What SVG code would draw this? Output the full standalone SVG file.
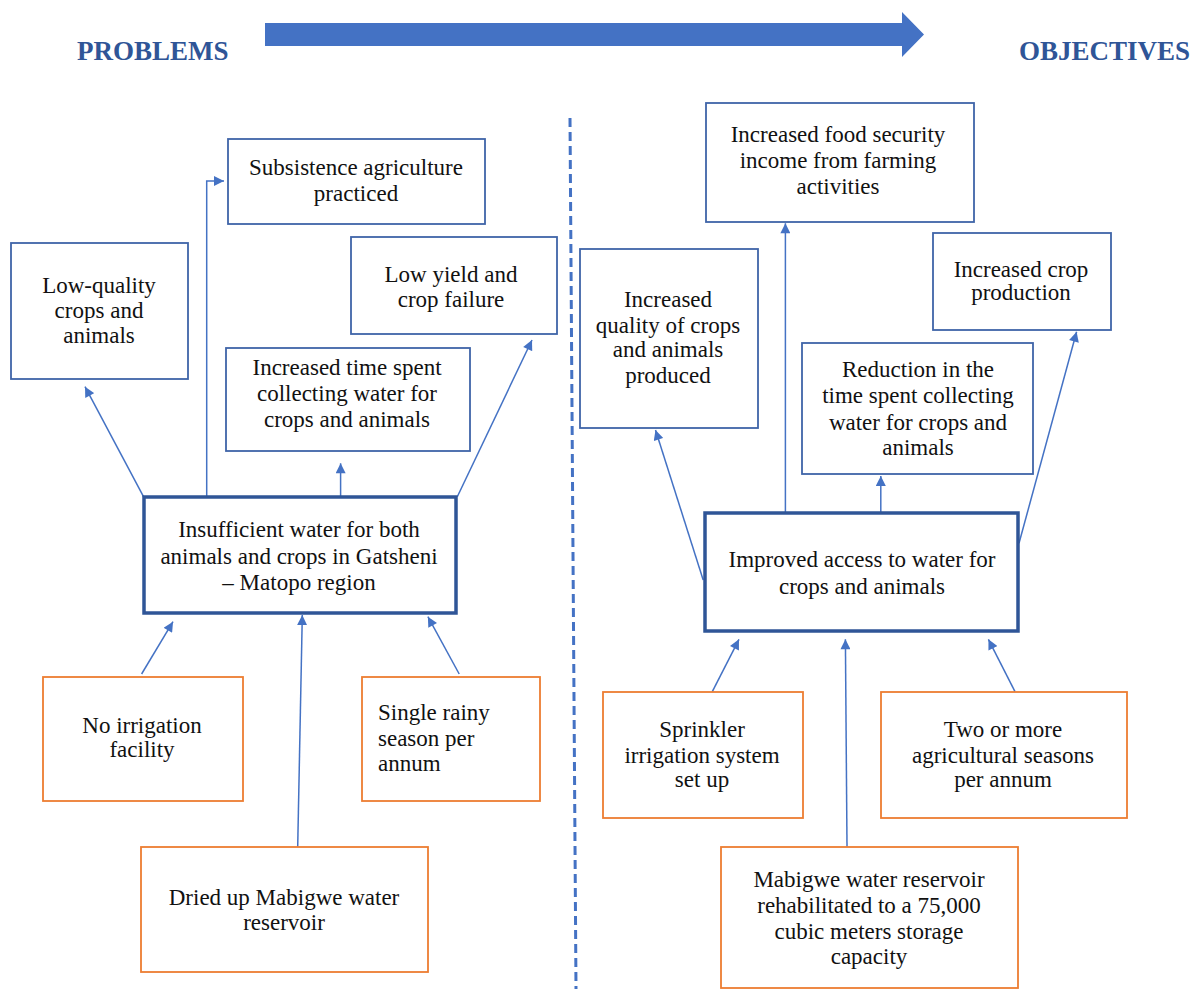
<svg xmlns="http://www.w3.org/2000/svg" width="1203" height="989" viewBox="0 0 1203 989">
<defs>
<style>
.hdr{font-family:"Liberation Serif","Times New Roman",serif;font-weight:bold;font-size:27px;fill:#2F5597}
.t{font-family:"Liberation Serif","Times New Roman",serif;font-size:23px;fill:#111;text-anchor:middle}
.tl{text-anchor:start}
.bb{fill:#fff;stroke:#3F64A8;stroke-width:1.8}
.mb{fill:#fff;stroke:#2F5597;stroke-width:3.5}
.ob{fill:#fff;stroke:#ED7D31;stroke-width:1.8}
.c{fill:none;stroke:#4472C4;stroke-width:1.5;marker-end:url(#ah)}
</style>
<marker id="ah" viewBox="0 0 10 10" refX="10" refY="5" markerWidth="11" markerHeight="10" markerUnits="userSpaceOnUse" orient="auto"><path d="M0,0 L10,5 L0,10 z" fill="#4472C4"/></marker>
</defs>
<rect width="1203" height="989" fill="#fff"/>
<g id="header">
<text class="hdr" x="77" y="60">PROBLEMS</text>
<text class="hdr" x="1019" y="60">OBJECTIVES</text>
<polygon points="265,23 902,23 902,12 924,34.5 902,57 902,46 265,46" fill="#4472C4"/>
</g>
<g id="divider"><line x1="570" y1="118" x2="576" y2="989" stroke="#4472C4" stroke-width="3" stroke-dasharray="9,5"/></g>
<g id="connectors">
<line class="c" x1="143.5" y1="496.7" x2="85" y2="386.7"/>
<path class="c" d="M206.7,496.7 V181 H224"/>
<line class="c" x1="340.6" y1="496.7" x2="340.6" y2="463.3"/>
<line class="c" x1="457.3" y1="496.7" x2="532" y2="340"/>
<line class="c" x1="141.6" y1="674" x2="173" y2="621.7"/>
<line class="c" x1="297.7" y1="846.7" x2="302.3" y2="615"/>
<line class="c" x1="459.2" y1="674" x2="427.9" y2="616.7"/>
<line class="c" x1="703.2" y1="580" x2="655.5" y2="430"/>
<line class="c" x1="785.4" y1="512.7" x2="785.4" y2="223.3"/>
<line class="c" x1="880.8" y1="512.7" x2="880.8" y2="476"/>
<line class="c" x1="1019" y1="543.3" x2="1076.6" y2="331.7"/>
<line class="c" x1="712.3" y1="691.7" x2="739" y2="639.3"/>
<line class="c" x1="847" y1="846.7" x2="845.4" y2="639.3"/>
<line class="c" x1="1015" y1="691.7" x2="988.4" y2="639.3"/>
</g>
<g id="subsistence"><rect class="bb" x="228" y="139" width="257" height="85"/>
<text class="t" x="356" y="175">Subsistence agriculture</text><text class="t" x="356" y="201">practiced</text></g>
<g id="low-quality"><rect class="bb" x="11" y="243" width="177" height="136"/>
<text class="t" x="99" y="293">Low-quality</text><text class="t" x="99" y="318">crops and</text><text class="t" x="99" y="343">animals</text></g>
<g id="low-yield"><rect class="bb" x="351" y="237" width="206" height="97"/>
<text class="t" x="451" y="282">Low yield and</text><text class="t" x="451" y="307">crop failure</text></g>
<g id="time-spent"><rect class="bb" x="226" y="348" width="244" height="103"/>
<text class="t" x="347" y="375">Increased time spent</text><text class="t" x="347" y="401">collecting water for</text><text class="t" x="347" y="427">crops and animals</text></g>
<g id="insufficient"><rect class="mb" x="144" y="497" width="312" height="116"/>
<text class="t" x="299" y="537">Insufficient water for both</text><text class="t" x="299" y="564">animals and crops in Gatsheni</text><text class="t" x="299" y="590">– Matopo region</text></g>
<g id="no-irrigation"><rect class="ob" x="43" y="677" width="200" height="124"/>
<text class="t" x="142" y="733">No irrigation</text><text class="t" x="142" y="757">facility</text></g>
<g id="single-rainy"><rect class="ob" x="362" y="677" width="178" height="124"/>
<text class="t tl" x="378" y="720">Single rainy</text><text class="t tl" x="378" y="746">season per</text><text class="t tl" x="378" y="771">annum</text></g>
<g id="dried-up"><rect class="ob" x="141" y="847" width="287" height="125"/>
<text class="t" x="284" y="905">Dried up Mabigwe water</text><text class="t" x="284" y="930">reservoir</text></g>
<g id="food-security"><rect class="bb" x="706" y="103" width="268" height="119"/>
<text class="t" x="838" y="142">Increased food security</text><text class="t" x="838" y="168">income from farming</text><text class="t" x="838" y="194">activities</text></g>
<g id="quality"><rect class="bb" x="580" y="249" width="178" height="179"/>
<text class="t" x="668" y="307">Increased</text><text class="t" x="668" y="333">quality of crops</text><text class="t" x="668" y="357">and animals</text><text class="t" x="668" y="383">produced</text></g>
<g id="crop-production"><rect class="bb" x="933" y="233" width="178" height="97"/>
<text class="t" x="1021" y="277">Increased crop</text><text class="t" x="1021" y="300">production</text></g>
<g id="reduction"><rect class="bb" x="802" y="343" width="231" height="131"/>
<text class="t" x="918" y="377">Reduction in the</text><text class="t" x="918" y="403">time spent collecting</text><text class="t" x="918" y="430">water for crops and</text><text class="t" x="918" y="455">animals</text></g>
<g id="improved"><rect class="mb" x="705" y="513" width="313" height="118"/>
<text class="t" x="862" y="567">Improved access to water for</text><text class="t" x="862" y="594">crops and animals</text></g>
<g id="sprinkler"><rect class="ob" x="603" y="692" width="200" height="126"/>
<text class="t" x="702" y="737">Sprinkler</text><text class="t" x="702" y="763">irrigation system</text><text class="t" x="702" y="787">set up</text></g>
<g id="two-seasons"><rect class="ob" x="881" y="692" width="246" height="126"/>
<text class="t" x="1003" y="737">Two or more</text><text class="t" x="1003" y="763">agricultural seasons</text><text class="t" x="1003" y="787">per annum</text></g>
<g id="mabigwe"><rect class="ob" x="721" y="847" width="297" height="141"/>
<text class="t" x="869" y="887">Mabigwe water reservoir</text><text class="t" x="869" y="913">rehabilitated to a 75,000</text><text class="t" x="869" y="939">cubic meters storage</text><text class="t" x="869" y="964">capacity</text></g>
</svg>
